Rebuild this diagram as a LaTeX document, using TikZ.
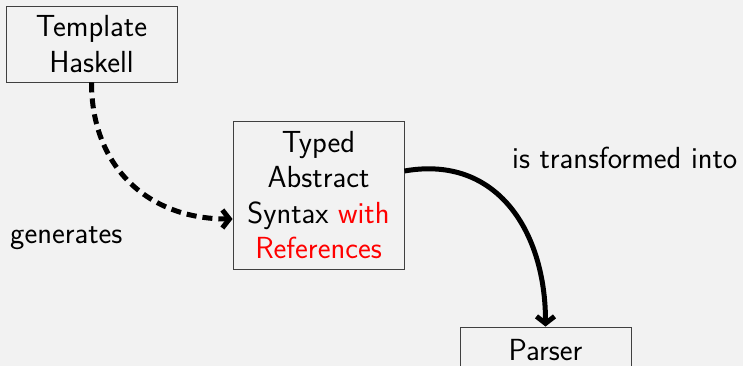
\documentclass[tikz,border=0pt]{standalone}
\usetikzlibrary{arrows.meta}
\definecolor{bg}{HTML}{F2F2F2}
\definecolor{boxline}{HTML}{404040}
\begin{document}
\begin{tikzpicture}[x=1pt,y=-1pt,
  font=\sffamily\fontsize{30.5}{35.5}\selectfont,
  box/.style={draw=boxline, line width=0.9pt, minimum width=171pt, align=center, inner sep=0pt},
  conn/.style={line width=5pt},
  tip/.style={-{Straight Barb[length=7pt,width=18pt]}},
  lbl/.style={anchor=base west, inner sep=0pt}]
\fill[bg] (0,0) rectangle (743,366);
\useasboundingbox (0,0) rectangle (743,366);
\node[box, minimum height=76pt] (th) at (91.5,44) {Template\\Haskell};
\node[box, minimum height=148pt] (tas) at (318.5,195) {Typed\\Abstract\\Syntax \textcolor{red}{with}\\\textcolor{red}{References}};
\node[box, minimum height=46pt] (parser) at (545.5,350) {Parser};
\node[lbl] (gen) at (10,243) {generates};
\node[lbl] (tr) at (512,168) {is transformed into};
\draw[conn, dash pattern=on 10pt off 6pt, tip]
  (th.south) to[out=-90,in=180,looseness=1.1] ([yshift=-24pt]tas.west);
\draw[conn, tip]
  ([yshift=24pt]tas.east) to[out=10,in=90,looseness=1.15] (parser.north);
\end{tikzpicture}
\end{document}
